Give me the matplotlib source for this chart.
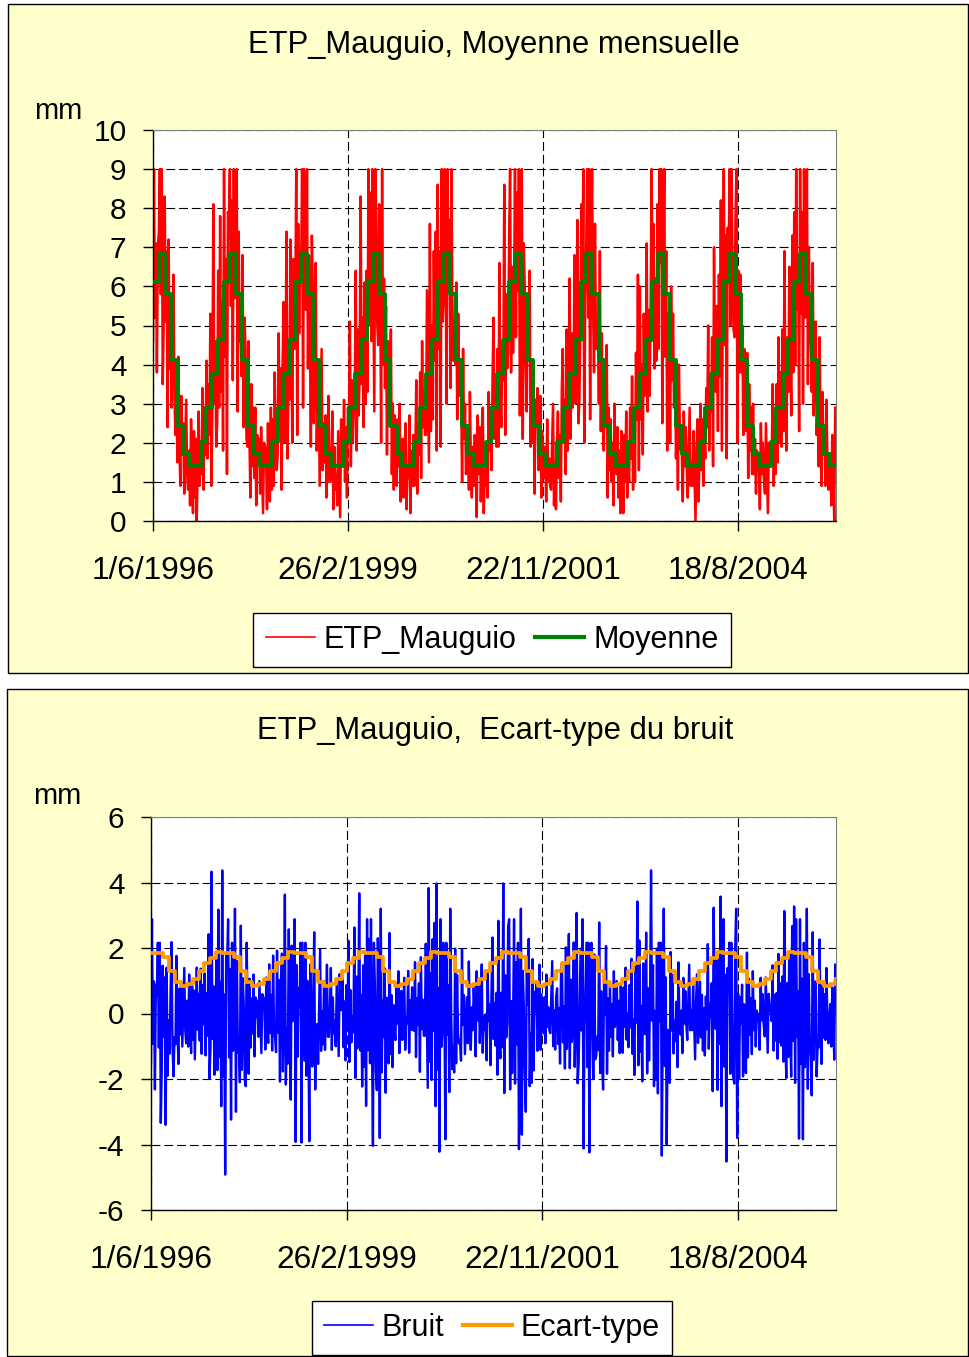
import numpy as np
import matplotlib
matplotlib.use('Agg')
import matplotlib.pyplot as plt
import matplotlib.dates as mdates
from matplotlib.patches import Rectangle
from matplotlib.lines import Line2D

plt.rcParams['font.family'] = ['Liberation Sans', 'DejaVu Sans']
plt.rcParams['axes.unicode_minus'] = False

# ---------------- texts ----------------
TITRE_HAUT = "ETP_Mauguio, Moyenne mensuelle"
TITRE_BAS = "ETP_Mauguio,  Ecart-type du bruit"
UNITE = "mm"
LEGENDE_HAUT = ["ETP_Mauguio", "Moyenne"]
LEGENDE_BAS = ["Bruit", "Ecart-type"]
DATES_TICKS = ['1996-06-01', '1999-02-26', '2001-11-22', '2004-08-18']
LABELS_TICKS = ['1/6/1996', '26/2/1999', '22/11/2001', '18/8/2004']
DEBUT, FIN = '1996-06-01', '2005-12-31'
PAS_JOURS = 5

# ---------------- monthly statistics (Jan..Dec) ----------------
MOYENNE_MENSUELLE = [1.40, 2.03, 2.88, 3.77, 4.63, 6.12, 6.84, 5.80, 4.12, 2.44, 1.71, 1.41]
ECART_TYPE_MENSUEL = [1.05, 1.30, 1.55, 1.70, 1.88, 1.86, 1.84, 1.72, 1.30, 0.95, 0.85, 0.90]

# ---------------- ETP values (mm), one every 5 days ----------------
ETP_1996 = [4.6, 9.0, 5.2, 7.1, 3.8, 7.0,
            7.4, 9.0, 5.8, 9.0, 3.5, 5.1,
            8.3, 5.1, 6.9, 2.4, 7.2, 3.9,
            5.6, 2.9, 4.8, 6.3, 3.1, 2.2,
            3.4, 1.5, 4.2, 2.0, 0.9, 3.2, 1.8,
            2.5, 0.7, 1.9, 3.1, 1.2, 0.8,
            1.8, 0.4, 2.6, 1.1, 0.2, 2.3]
ETP_1997 = [0.6, 2.1, 0.0, 1.4, 2.8, 0.9, 2.0,
            1.2, 3.4, 0.8, 2.9, 1.7,
            4.1, 1.6, 3.5, 2.2, 5.3, 0.9,
            2.7, 8.1, 3.0, 4.6, 1.9, 2.5,
            6.4, 2.9, 7.8, 3.3, 5.6, 1.8,
            9.0, 4.2, 6.7, 1.2, 7.9, 7.7,
            9.0, 5.5, 8.2, 3.6, 9.0, 5.7,
            6.1, 9.0, 2.8, 7.4, 4.6, 4.9,
            3.7, 6.8, 2.4, 5.2, 4.4, 2.1,
            1.9, 4.6, 2.2, 0.6, 3.5, 1.4, 2.9,
            1.1, 2.9, 0.4, 2.2, 1.6, 2.1,
            0.7, 2.4, 1.3, 0.2, 2.0, 1.9]
ETP_1998 = [1.8, 0.3, 2.5, 1.0, 0.5, 2.9, 0.8,
            2.6, 0.9, 3.8, 1.4, 1.3,
            1.7, 4.8, 2.3, 3.9, 0.8, 3.9,
            5.6, 2.0, 3.4, 7.4, 1.6, 3.3,
            3.1, 7.2, 4.4, 2.0, 6.7, 4.4,
            5.3, 9.0, 2.2, 7.6, 4.8, 6.9,
            6.3, 9.0, 2.9, 9.0, 7.2, 5.4,
            9.0, 3.9, 6.8, 5.2, 1.9, 7.3,
            5.9, 2.5, 4.7, 6.6, 1.8, 3.2,
            3.8, 0.9, 2.7, 4.4, 1.3, 2.5, 1.5,
            2.7, 0.6, 1.8, 3.2, 1.0, 1.0,
            1.5, 2.8, 0.3, 1.9, 0.8, 1.2]
ETP_1999 = [0.4, 2.3, 1.2, 0.1, 2.6, 1.5, 1.7,
            3.1, 1.0, 2.4, 0.6, 2.9,
            2.5, 5.1, 1.4, 3.6, 2.0, 2.8,
            3.2, 6.4, 1.8, 4.9, 2.7, 3.8,
            8.3, 3.5, 5.2, 2.4, 6.1, 3.0,
            6.4, 3.3, 9.0, 5.0, 8.4, 4.6,
            9.0, 6.0, 2.8, 9.0, 7.7, 5.1,
            4.5, 8.1, 6.3, 2.0, 9.0, 4.0,
            6.2, 3.4, 5.5, 1.7, 4.6, 3.3,
            2.6, 4.9, 1.2, 3.0, 0.8, 2.7, 1.9,
            0.9, 2.6, 1.4, 3.0, 0.5, 1.9,
            2.1, 0.6, 1.7, 2.5, 0.3, 1.3]
ETP_2000 = [1.1, 2.7, 0.2, 1.8, 0.9, 2.2, 0.9,
            1.5, 3.6, 0.7, 2.5, 1.7,
            3.8, 1.1, 4.6, 2.4, 3.3, 2.2,
            2.2, 5.9, 3.6, 1.5, 7.6, 2.3,
            5.0, 2.6, 6.9, 4.1, 7.4, 1.8,
            8.6, 4.4, 6.9, 1.9, 9.0, 5.1,
            5.6, 9.0, 7.3, 3.0, 9.0, 6.2,
            7.7, 3.4, 9.0, 5.8, 4.1, 4.8,
            4.0, 6.1, 2.6, 5.3, 3.5, 3.2,
            3.3, 1.0, 4.4, 2.1, 3.0, 1.2, 2.1,
            2.2, 0.8, 3.3, 1.5, 0.6, 1.9,
            0.9, 2.2, 1.4, 0.1, 2.7, 1.2]
ETP_2001 = [2.4, 0.5, 1.6, 2.9, 0.2, 1.3, 0.9,
            2.0, 0.6, 3.3, 1.8, 2.3,
            1.3, 3.7, 5.2, 2.1, 3.2, 1.9,
            4.4, 1.9, 6.6, 3.1, 2.4, 4.4,
            3.6, 8.6, 2.2, 5.8, 3.9, 4.3,
            7.3, 9.0, 3.8, 6.5, 4.3, 5.8,
            9.0, 4.7, 8.4, 5.9, 9.0, 2.7,
            5.4, 9.0, 2.1, 7.1, 6.0, 4.0,
            2.8, 5.7, 4.4, 6.4, 1.9, 3.5,
            2.0, 4.1, 0.7, 3.1, 2.5, 3.4, 1.3,
            1.4, 3.2, 0.6, 2.3, 1.7, 1.1,
            1.9, 0.5, 2.6, 1.0, 1.6, 0.9]
ETP_2002 = [0.8, 1.9, 3.0, 0.4, 1.5, 0.3, 1.9,
            2.8, 1.1, 2.2, 0.5, 3.4,
            4.4, 2.0, 3.1, 1.2, 4.9, 1.8,
            3.5, 6.2, 2.1, 4.8, 2.9, 3.3,
            6.8, 3.0, 4.7, 7.7, 2.5, 3.1,
            4.9, 8.1, 5.6, 9.0, 2.0, 5.7,
            7.0, 9.0, 5.2, 9.0, 2.6, 7.0,
            9.0, 5.5, 3.8, 7.6, 4.4, 4.5,
            5.1, 3.0, 6.9, 2.3, 4.8, 2.6,
            1.8, 3.6, 2.4, 4.5, 0.6, 2.9, 1.3,
            2.6, 1.0, 2.0, 0.4, 3.0, 1.3,
            1.2, 2.4, 0.6, 1.8, 0.2, 2.3]
ETP_2003 = [1.6, 0.2, 2.2, 1.0, 2.8, 0.6, 1.4,
            1.0, 2.9, 1.6, 3.7, 0.8,
            2.7, 1.0, 4.3, 2.6, 6.3, 1.3,
            6.0, 2.6, 4.0, 1.7, 5.3, 3.2,
            4.0, 7.1, 2.8, 5.4, 3.2, 5.3,
            9.0, 5.9, 7.6, 3.9, 6.2, 4.1,
            8.1, 4.4, 9.0, 6.6, 9.0, 2.5,
            6.5, 9.0, 4.2, 6.9, 1.8, 5.3,
            4.9, 2.0, 6.0, 3.6, 5.3, 2.9,
            3.9, 1.6, 2.8, 0.8, 4.0, 2.2, 1.8,
            1.8, 0.5, 2.8, 1.4, 2.4, 1.4,
            0.6, 1.7, 2.9, 0.9, 1.5, 0.9]
ETP_2004 = [2.3, 1.1, 0.0, 1.8, 2.6, 0.5, 1.5,
            3.0, 1.3, 2.6, 0.9, 2.2,
            1.6, 3.4, 2.4, 5.0, 1.8, 3.2,
            2.8, 4.7, 1.4, 7.0, 3.6, 3.3,
            5.5, 2.3, 6.3, 3.7, 8.2, 1.8,
            5.6, 9.0, 4.5, 7.3, 1.6, 7.5,
            6.8, 9.0, 5.0, 9.0, 6.3, 4.9,
            4.7, 7.8, 9.0, 2.0, 6.4, 3.8,
            6.3, 3.8, 5.0, 2.2, 4.4, 3.0,
            2.3, 4.3, 1.1, 3.5, 1.8, 2.9, 1.2,
            3.0, 1.2, 2.1, 0.7, 1.8, 1.5,
            1.4, 0.3, 2.5, 1.2, 2.0, 1.1]
ETP_2005 = [0.7, 2.5, 1.3, 0.2, 2.0, 1.6, 1.5,
            1.8, 3.5, 0.9, 2.6, 1.2,
            3.5, 1.5, 4.7, 2.0, 3.8, 1.9,
            4.9, 2.3, 6.9, 3.0, 1.8, 4.7,
            3.3, 6.5, 4.2, 2.7, 7.3, 3.8,
            7.9, 4.0, 9.0, 5.4, 6.8, 2.3,
            9.0, 5.3, 7.9, 3.0, 9.0, 5.2,
            5.9, 9.0, 3.5, 7.0, 4.9, 4.5,
            3.3, 6.6, 2.7, 4.8, 5.1, 2.2,
            3.1, 1.4, 4.7, 2.0, 0.9, 3.3, 1.7,
            2.3, 0.9, 3.1, 1.6, 0.8, 1.6,
            1.7, 0.4, 2.2, 1.3, 0.0, 2.9]

BLOCS = [(1996, ETP_1996), (1997, ETP_1997), (1998, ETP_1998), (1999, ETP_1999),
         (2000, ETP_2000), (2001, ETP_2001), (2002, ETP_2002), (2003, ETP_2003),
         (2004, ETP_2004), (2005, ETP_2005)]

# ---------------- build series ----------------
dates, etp = [], []
for annee, vals in BLOCS:
    d0 = np.datetime64(DEBUT) if annee == 1996 else np.datetime64(f'{annee}-01-01')
    dates.append(d0 + np.arange(len(vals)) * np.timedelta64(PAS_JOURS, 'D'))
    etp.append(np.asarray(vals, dtype=float))
dates = np.concatenate(dates)
etp = np.concatenate(etp)
mois = dates.astype('datetime64[M]').astype(int) % 12
moy = np.asarray(MOYENNE_MENSUELLE)
ect = np.asarray(ECART_TYPE_MENSUEL)
bruit = etp - moy[mois]
xd = mdates.date2num(dates)

mois_debut = np.arange(np.datetime64('1996-06'), np.datetime64('2006-02'), np.timedelta64(1, 'M'))
m_idx = mois_debut.astype(int) % 12
xm = mdates.date2num(mois_debut.astype('datetime64[D]'))

x_min = mdates.date2num(np.datetime64(DEBUT))
x_max = mdates.date2num(np.datetime64(FIN))
x_ticks = mdates.date2num(np.array(DATES_TICKS, dtype='datetime64[D]'))

# ---------------- figure ----------------
W, H = 970, 1357
fig = plt.figure(figsize=(W / 100, H / 100), dpi=100, facecolor='white')

for (a, b, c, d) in [(8, 4, 968, 673), (7, 689, 968, 1356)]:
    fig.patches.append(Rectangle((a / W, 1 - d / H), (c - a) / W, (d - b) / H,
                                 transform=fig.transFigure, facecolor='#FFFFCC',
                                 edgecolor='black', lw=1.0, zorder=-5))

ax1 = fig.add_axes([153 / W, 1 - 521 / H, (836 - 153) / W, (521 - 130) / H])
ax2 = fig.add_axes([151 / W, 1 - 1210 / H, (836 - 151) / W, (1210 - 817) / H])


def style(ax, ymin, ymax, ystep):
    ax.set_facecolor('white')
    ax.set_xlim(x_min, x_max)
    ax.set_ylim(ymin, ymax)
    ax.set_yticks(np.arange(ymin, ymax + ystep / 2, ystep))
    ax.set_xticks(x_ticks)
    ax.set_xticklabels(LABELS_TICKS)
    ax.tick_params(axis='both', direction='out', length=7, width=1, color='black')
    ax.tick_params(axis='y', pad=12, labelsize=21.5)
    ax.tick_params(axis='x', pad=18, labelsize=22.8)
    ax.grid(True, color='black', lw=0.8, linestyle=(0, (8, 3.5)))
    ax.set_axisbelow(True)
    for s in ['top', 'right']:
        ax.spines[s].set_color('#808080')
    for s in ['left', 'bottom']:
        ax.spines[s].set_color('black')
        ax.spines[s].set_linewidth(1.0)


style(ax1, 0, 10, 1)
style(ax2, -6, 6, 2)

ax1.plot(xd, etp, color='#FF0000', lw=1.8, zorder=2)
ax1.step(xm, moy[m_idx], where='post', color='#008000', lw=2.8, zorder=3)

ax2.plot(xd, bruit, color='#0000FF', lw=1.7, zorder=2)
ax2.step(xm, ect[m_idx], where='post', color='#FF9900', lw=2.7, zorder=3)

fig.text(494 / W, 1 - 45 / H, TITRE_HAUT, ha='center', va='center', fontsize=22.3)
fig.text(495 / W, 1 - 731 / H, TITRE_BAS, ha='center', va='center', fontsize=22.3)
fig.text(58 / W, 1 - 111 / H, UNITE, ha='center', va='center', fontsize=21)
fig.text(57 / W, 1 - 796 / H, UNITE, ha='center', va='center', fontsize=21)

h1 = [Line2D([], [], color='#FF0000', lw=1.2), Line2D([], [], color='#008000', lw=3)]
h2 = [Line2D([], [], color='#0000FF', lw=1.2), Line2D([], [], color='#FF9900', lw=3)]
for hs, labs, cy in [(h1, LEGENDE_HAUT, 640), (h2, LEGENDE_BAS, 1328)]:
    leg = fig.legend(hs, labs, loc='center', bbox_to_anchor=(492 / W, 1 - cy / H),
                     ncol=2, frameon=True, fancybox=False, edgecolor='black',
                     fontsize=22, handlelength=1.6, columnspacing=0.6,
                     handletextpad=0.3, borderpad=0.4, borderaxespad=0,
                     framealpha=1)
    leg.get_frame().set_linewidth(1.0)
    leg.get_frame().set_facecolor('white')

fig.savefig('out.png', dpi=100, facecolor='white')
